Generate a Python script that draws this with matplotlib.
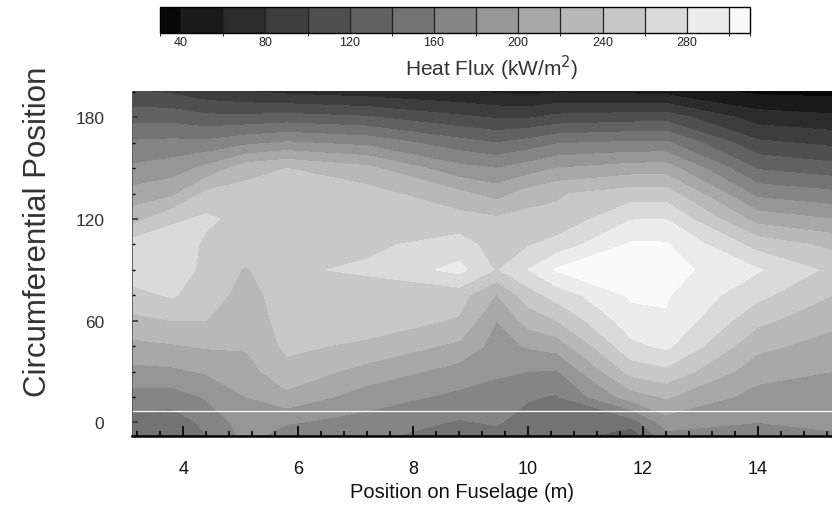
import numpy as np
import matplotlib
matplotlib.use("Agg")
import matplotlib.pyplot as plt
from matplotlib import font_manager
from matplotlib.colors import ListedColormap, BoundaryNorm
from matplotlib.ticker import MultipleLocator

# Measurement stations along the fuselage (m) and around the circumference (deg)
fuselage_pos = [3.1, 3.8, 4.4, 5.1, 5.8, 7.2, 8.8, 9.45, 10.0, 10.5, 11.8, 12.4, 14.0, 15.3]
circ_pos = [-10, 0, 15, 30, 45, 60, 75, 90, 105, 120, 135, 150, 165, 180, 196]

# Heat flux (kW/m^2) per fuselage station, listed from bottom (-10 deg) to top (196 deg)
flux_x3_1 = [140, 152, 172, 194, 214, 235, 253, 272, 268, 232, 207, 183, 163, 132, 100]
flux_x3_8 = [138, 148, 170, 196, 218, 240, 262, 275, 275, 255, 215, 190, 165, 132, 95]
flux_x4_4 = [158, 165, 182, 202, 222, 240, 250, 253, 256, 264, 245, 205, 165, 125, 85]
flux_x5_1 = [185, 190, 200, 212, 222, 228, 232, 238, 250, 252, 248, 232, 175, 125, 78]
flux_x5_8 = [165, 182, 214, 234, 244, 248, 250, 257, 252, 252, 250, 240, 182, 128, 72]
flux_x7_2 = [162, 172, 190, 212, 236, 250, 250, 263, 256, 252, 248, 225, 174, 122, 66]
flux_x8_8 = [150, 158, 175, 192, 215, 238, 248, 286, 268, 248, 225, 186, 148, 104, 60]
flux_x9_45 = [152, 162, 172, 183, 192, 200, 219, 258, 252, 243, 212, 180, 140, 98, 55]
flux_x10_0 = [148, 152, 162, 180, 202, 228, 250, 280, 258, 248, 228, 190, 148, 98, 52]
flux_x10_5 = [145, 150, 158, 178, 208, 240, 268, 302, 268, 244, 238, 200, 158, 106, 55]
flux_x11_8 = [120, 150, 210, 247, 275, 292, 303, 307, 303, 279, 250, 209, 163, 110, 52]
flux_x12_4 = [170, 190, 222, 255, 284, 298, 302, 308, 302, 280, 250, 210, 163, 112, 50]
flux_x14_0 = [175, 180, 192, 208, 225, 245, 265, 282, 252, 212, 174, 138, 104, 70, 34]
flux_x15_3 = [178, 182, 190, 200, 212, 225, 240, 255, 235, 200, 165, 128, 95, 64, 32]

# Contour levels and tick values
levels = [30, 40, 60, 80, 100, 120, 140, 160, 180, 200, 220, 240, 260, 280, 300, 310]
cbar_ticks = [40, 80, 120, 160, 200, 240, 280]
x_ticks = [4, 6, 8, 10, 12, 14]
y_ticks = [0, 60, 120, 180]

columns = [flux_x3_1, flux_x3_8, flux_x4_4, flux_x5_1, flux_x5_8, flux_x7_2, flux_x8_8,
           flux_x9_45, flux_x10_0, flux_x10_5, flux_x11_8, flux_x12_4, flux_x14_0, flux_x15_3]
Z = np.array(columns, dtype=float).T
X, Y = np.meshgrid(fuselage_pos, circ_pos)

grays = [0.03, 0.10, 0.17, 0.24, 0.31, 0.38, 0.45, 0.52, 0.59, 0.66, 0.72, 0.785, 0.855, 0.925, 0.98]
cmap = ListedColormap([(g, g, g) for g in grays])
norm = BoundaryNorm(levels, cmap.N)

plt.rcParams["font.family"] = ["Liberation Sans", "DejaVu Sans"]
installed = {f.name for f in font_manager.fontManager.ttflist}
has_narrow = "Liberation Sans Narrow" in installed
narrow = ["Liberation Sans Narrow", "Liberation Sans"] if has_narrow else ["Liberation Sans"]

fig = plt.figure(figsize=(8.32, 5.06), dpi=100)
ax = fig.add_axes([132 / 832, 1 - 437 / 506, 700 / 832, 345 / 506])
cax = fig.add_axes([160 / 832, 1 - 34 / 506, 590 / 832, 26 / 506])

cs = ax.contourf(X, Y, Z, levels=levels, cmap=cmap, norm=norm)
ax.set_xlim(3.11, 15.29)
ax.set_ylim(-8, 195.5)
ax.axhline(6.5, color="white", lw=0.9)

ax.set_xticks(x_ticks)
ax.set_yticks(y_ticks)
ax.xaxis.set_minor_locator(MultipleLocator(0.4))
ax.yaxis.set_minor_locator(MultipleLocator(15))
ax.tick_params(axis="x", which="major", direction="in", length=7, width=1.4, pad=17,
               labelsize=14 if has_narrow else 13, colors="#111111")
ax.tick_params(axis="x", which="minor", direction="in", length=3.5, width=1.2)
ax.tick_params(axis="y", which="major", direction="in", length=4, width=1.2, pad=20,
               labelsize=12.5, colors="#333333")
ax.tick_params(axis="y", which="minor", direction="in", length=2.5, width=1.0)
for lab in ax.get_xticklabels():
    lab.set_family(narrow)
ax.spines["top"].set_visible(False)
ax.spines["right"].set_visible(False)
ax.spines["bottom"].set_linewidth(1.8)
ax.spines["left"].set_linewidth(0.6)
ax.spines["left"].set_color("#555555")

fig.text(38 / 832, 1 - 232 / 506, "Circumferential Position", rotation=90,
         ha="center", va="center", fontsize=22.5, color="#333333")
fig.text(462 / 832, 1 - 493 / 506, "Position on Fuselage (m)", ha="center", va="center",
         fontsize=16 if has_narrow else 14.5, family=narrow, color="#111111")

cb = fig.colorbar(cs, cax=cax, orientation="horizontal", ticks=cbar_ticks,
                  drawedges=True, spacing="proportional")
cb.outline.set_linewidth(1.0)
cb.dividers.set_color("#222222")
cb.dividers.set_linewidth(0.9)
cax.tick_params(length=0, pad=2, labelsize=9, colors="#222222")
for lab in cax.get_xticklabels():
    lab.set_family(narrow)
fig.text(492 / 832, 1 - 68 / 506, "Heat Flux (kW/m$^2$)", ha="center", va="center",
         fontsize=15, color="#333333")

fig.savefig("out.png", dpi=100)
